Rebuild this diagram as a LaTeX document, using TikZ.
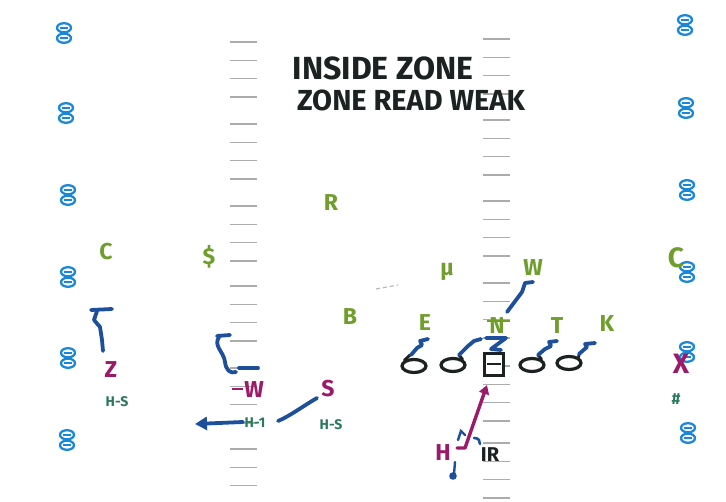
\documentclass[tikz,border=0pt]{standalone}
\usepackage{fontspec}
\setmainfont{Fira Sans}
\usetikzlibrary{arrows.meta,shapes.geometric}
\definecolor{grn}{HTML}{6F9E2C}
\definecolor{mag}{HTML}{9C1A6A}
\definecolor{dgr}{HTML}{2A7A5A}
\definecolor{rblue}{HTML}{1E4F9A}
\definecolor{lblue}{HTML}{1A88D6}
\definecolor{ink}{HTML}{1C2222}
\begin{document}
\begin{tikzpicture}[x=1pt,y=-1pt,
  lab/.style={font=\bfseries\fontsize{23}{23}\selectfont,inner sep=0pt},
  g/.style={lab,text=grn},
  mg/.style={lab,text=mag},
  dg/.style={font=\bfseries\fontsize{14}{14}\selectfont,text=dgr,inner sep=0pt},
  title/.style={font=\bfseries\fontsize{29}{29}\selectfont,text=ink,inner sep=0pt},
  route/.style={draw=rblue,line width=3.8pt,line cap=round,line join=round},
  tick/.style={draw=gray!65,line width=1.5pt},
  ooline/.style={draw=lblue,line width=2.3pt},
  lineman/.style={draw=ink,ellipse,line width=3.2pt,minimum width=24pt,minimum height=13pt,inner sep=0pt},
  oo/.pic={\draw[ooline] (0,-5.2) ellipse (7 and 4.6); \draw[ooline] (0,5.2) ellipse (7 and 4.6);
           \draw[lblue,line width=1.6pt] (-4,-5.2) -- (4,-5.2) (-4,5.2) -- (4,5.2);}
]
\useasboundingbox (0,0) rectangle (726,502);
\fill[white] (0,0) rectangle (726,502);

% hash marks
\foreach \g in {42,124,206,286,368,449}{
  \foreach \k in {0,1,2,3}{\draw[tick] (230,{\g+18.3*\k}) -- (257,{\g+18.3*\k});}}
\foreach \g in {39,120,201,283,366,443}{
  \foreach \k in {0,1,2,3}{\draw[tick] (483,{\g+18.3*\k}) -- (510,{\g+18.3*\k});}}

% numbers
\foreach \p in {(64,33),(66,113),(68,195),(68,277),(68,358),(67,440)}{\pic at \p {oo};}
\foreach \p in {(685,25),(686,108),(687,190),(687,272),(687,352),(688,433)}{\pic at \p {oo};}

% title
\node[title,font=\bfseries\fontsize{32}{32}\selectfont] (t1) at (383,68) {INSIDE ZONE};
\node[title] (t2) at (411,100) {ZONE READ WEAK};

% defense
\node[g] (cl) at (106,252) {C};
\node[g] (ss) at (209,257) {\$};
\node[g] (r) at (331,203) {R};
\node[g] (b) at (350,317) {B};
\node[g] (m) at (447,272) {μ};
\node[g] (w) at (533,268) {W};
\node[g] (e) at (425,323) {E};
\node[g] (n) at (497,326) {N};
\draw[grn,line width=1.8pt] (487,321) -- (510,321);
\node[g] (t) at (557,326) {T};
\node[g] (k) at (607,324) {K};
\node[lab,text=grn,font=\bfseries\fontsize{28}{28}\selectfont] (cr) at (676,258) {C};
\draw[gray!55,line width=1.2pt,dash pattern=on 4pt off 3pt] (376,289) -- (398,285);

% offense
\node[mg] (z) at (111,370) {Z};
\node[dg] (hs1) at (117,402) {H-S};
\node[mg] (wl) at (254,390) {W};
\draw[mag,line width=2.6pt] (232,389) -- (243,389);
\node[mg] (s) at (328,389) {S};
\node[dg] (h1) at (255,423) {H-1};
\node[dg] (hs2) at (331,425) {H-S};
\node[lab,text=mag,font=\bfseries\fontsize{28}{28}\selectfont] (x) at (681,364) {X};
\node[dg,font=\bfseries\fontsize{16}{16}\selectfont] (hash) at (676,399) {\#};
\node[mg] (h) at (443,453) {H};
\node[lab,text=ink,font=\bfseries\fontsize{20}{20}\selectfont] (qb) at (490,455) {IR};

% offensive line
\node[lineman] (o1) at (414,366) {};
\node[lineman] (o2) at (453,365) {};
\node[draw=ink,fill=white,line width=3pt,minimum width=19pt,minimum height=22pt,inner sep=0pt] (c) at (494,365) {};
\draw[ink,line width=2pt] (487,364) -- (501,364);
\node[lineman] (o4) at (532,365) {};
\node[lineman] (o5) at (569,363) {};
\draw[ink,line width=2.8pt,line cap=round] (o1.north west) -- (410,355);
\draw[ink,line width=2.8pt,line cap=round] (o2.north east) -- (459,355);
\draw[ink,line width=2.8pt,line cap=round] (o4.north east) -- (538,355);
\draw[ink,line width=2.8pt,line cap=round] (o5.north east) -- (579,354);

% blocks
\draw[route] (411,355) -- (417,348) -- (422,345) -- (420,341) -- (428,339);
\draw[route] (459,355) -- (468,346) -- (474,341) -- (481,339);
\draw[route] (486,338) -- (506,338) -- (491,349) -- (501,350);
\draw[route] (538,355) -- (545,349) -- (551,346) -- (549,342) -- (557,341);
\draw[route] (579,354) -- (587,347) -- (585,344) -- (595,343);
\draw[route] (533,282) -- (525,283) -- (522,292) -- (507,312);

% Z stalk
\draw[route] (91,310) -- (112,309);
\draw[route] (97,311) -- (94,320) -- (100,327) -- (102,340) -- (103,351);
% W left
\draw[route] (217,336) -- (230,335);
\draw[route] (219,337) .. controls (213,346) and (224,352) .. (225,362) .. controls (226,370) and (230,374) .. (236,372);
\draw[route] (239,368) -- (258,368);
% S motion
\coordinate (sr) at (317,398);
\coordinate (sm) at (278,421);
\draw[route] (sr) .. controls (300,408) and (290,416) .. (sm);
\coordinate (a0) at (243,422);
\coordinate (a1) at (195,424);
\draw[route,-{Triangle[length=12pt,width=13pt]}] (a0) -- (a1);

% H path
\coordinate (hp0) at (457,448);
\coordinate (hp1) at (465,448);
\coordinate (hp2) at (487,385);
\draw[mag,line width=3.4pt,line cap=round,line join=round,-{Triangle[length=9pt,width=10pt]}] (hp0) -- (hp1) -- (hp2);
\draw[rblue,line width=2.4pt,line cap=round] (458,440) -- (461,431) -- (465,435);
\draw[rblue,line width=2.6pt,line cap=round] (474,438) .. controls (479,438) and (480,441) .. (480,444);
\draw[rblue,line width=2.4pt,line cap=round] (455,462) -- (454,474);
\fill[rblue] (453,476) circle (3.8);
\end{tikzpicture}
\end{document}
